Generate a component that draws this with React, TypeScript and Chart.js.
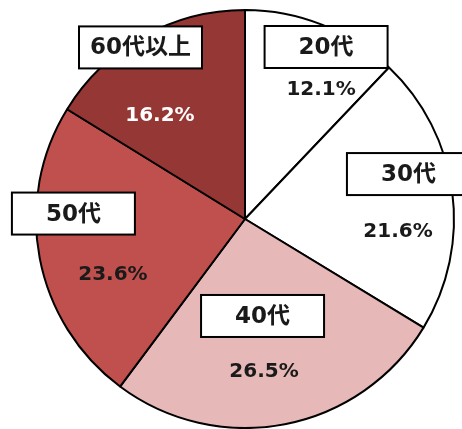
import React, { useEffect, useRef } from "react";
import { Chart, registerables } from "chart.js";

Chart.register(...registerables);

const categories = ["20代", "30代", "40代", "50代", "60代以上"];
const shares = [12.1, 21.6, 26.5, 23.6, 16.2];
const sliceColors = ["#ffffff", "#ffffff", "#e6b9b8", "#c0504d", "#953735"];
const valueTextColors = ["#1a1a1a", "#1a1a1a", "#1a1a1a", "#1a1a1a", "#ffffff"];

// label layout, in units of the pie radius, relative to the pie centre
const boxPos: [number, number][] = [
  [0.388, -0.823],
  [0.782, -0.215],
  [0.084, 0.464],
  [-0.821, -0.026],
  [-0.5, -0.821],
];
const valuePos: [number, number][] = [
  [0.364, -0.617],
  [0.732, 0.062],
  [0.091, 0.732],
  [-0.632, 0.268],
  [-0.407, -0.493],
];

const FONT = '"DejaVu Sans", "Noto Sans CJK JP", sans-serif';

const labelPlugin = {
  id: "pieLabels",
  afterDatasetsDraw(chart: any) {
    const ctx = chart.ctx;
    const meta = chart.getDatasetMeta(0);
    const arc0 = meta.data[0];
    if (!arc0) return;
    const cx = arc0.x;
    const cy = arc0.y;
    const r = arc0.outerRadius;
    ctx.save();
    ctx.textAlign = "center";
    ctx.textBaseline = "middle";
    categories.forEach((name, i) => {
      const bx = cx + boxPos[i][0] * r;
      const by = cy + boxPos[i][1] * r;
      const bw = 123;
      const bh = 42;
      ctx.fillStyle = "#ffffff";
      ctx.fillRect(bx - bw / 2, by - bh / 2, bw, bh);
      ctx.strokeStyle = "#000000";
      ctx.lineWidth = 2;
      ctx.strokeRect(bx - bw / 2, by - bh / 2, bw, bh);
      ctx.fillStyle = "#1a1a1a";
      ctx.font = `bold 23px ${FONT}`;
      ctx.fillText(name, bx, by + 1);

      const vx = cx + valuePos[i][0] * r;
      const vy = cy + valuePos[i][1] * r;
      ctx.fillStyle = valueTextColors[i];
      ctx.font = `bold 20px ${FONT}`;
      ctx.fillText(shares[i].toFixed(1) + "%", vx, vy);
    });
    ctx.restore();
  },
};

export default function App() {
  const ref = useRef<HTMLCanvasElement>(null);
  useEffect(() => {
    if (!ref.current) return;
    const chart = new Chart(ref.current, {
      type: "pie",
      data: {
        labels: categories,
        datasets: [
          {
            data: shares,
            backgroundColor: sliceColors,
            borderColor: "#000000",
            borderWidth: 2,
            borderAlign: "center",
          },
        ],
      },
      options: {
        responsive: false,
        animation: false,
        layout: { padding: { left: 35, right: 7, top: 9, bottom: 0 } },
        plugins: {
          legend: { display: false },
          tooltip: { enabled: false },
          title: { display: false },
        },
      },
      plugins: [labelPlugin],
    });
    return () => chart.destroy();
  }, []);
  return (
    <div style={{ position: "absolute", left: 0, top: 0, width: 462, height: 429, background: "#fff" }}>
      <canvas ref={ref} width={462} height={429} />
    </div>
  );
}
